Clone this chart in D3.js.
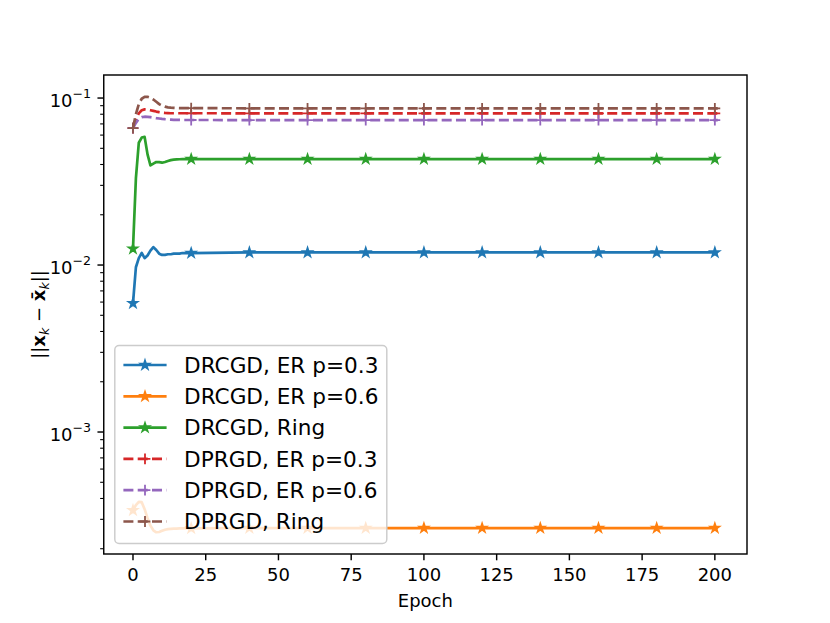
<!DOCTYPE html>
<html><head><meta charset="utf-8">
<script src="https://cdn.jsdelivr.net/npm/d3@7"></script>
<style>body{margin:0;background:#fff} text{font-family:"DejaVu Sans",sans-serif;fill:#000}</style>
</head><body><svg id="c" width="830" height="623"></svg>
<script>
// ---- data ----
const epochs = [0,1,2,3,4,5,6,7,8,9,10,11,12,13,14,15,16,17,18,19,20,40,60,80,100,120,140,160,180,200,201];
const seriesNames = ["DRCGD, ER p=0.3","DRCGD, ER p=0.6","DRCGD, Ring","DPRGD, ER p=0.3","DPRGD, ER p=0.6","DPRGD, Ring"];
const drcgdER03 = [0.0059,0.0097,0.0110,0.0118,0.0110,0.0114,0.0122,0.0128,0.0123,0.0117,0.0115,0.0115,0.0116,0.0116,0.0117,0.0117,0.0117,0.0118,0.0118,0.0118,0.0118,0.0119,0.0119,0.0119,0.0119,0.0119,0.0119,0.0119,0.0119,0.0119,0.0119];
const drcgdER06 = [3.4e-4,3.65e-4,3.82e-4,3.8e-4,3.45e-4,3.05e-4,2.75e-4,2.58e-4,2.51e-4,2.52e-4,2.56e-4,2.6e-4,2.62e-4,2.63e-4,2.64e-4,2.64e-4,2.65e-4,2.65e-4,2.65e-4,2.65e-4,2.65e-4,2.66e-4,2.66e-4,2.66e-4,2.66e-4,2.66e-4,2.66e-4,2.66e-4,2.66e-4,2.66e-4,2.66e-4];
const drcgdRing = [0.0125,0.033,0.054,0.058,0.0585,0.046,0.0395,0.0405,0.0414,0.0413,0.0410,0.0414,0.0420,0.0425,0.0428,0.0429,0.0430,0.0431,0.0431,0.0431,0.0431,0.0431,0.0431,0.0431,0.0431,0.0431,0.0431,0.0431,0.0431,0.0431,0.0431];
const dprgdER03 = [0.066,0.075,0.081,0.0845,0.0855,0.0852,0.0845,0.0838,0.0830,0.0823,0.0818,0.0815,0.0813,0.0811,0.0811,0.0811,0.0811,0.0811,0.0811,0.0811,0.0811,0.0810,0.0810,0.0810,0.0810,0.0810,0.0810,0.0810,0.0810,0.0810,0.0810];
const dprgdER06 = [0.066,0.071,0.0752,0.0768,0.0773,0.0772,0.0768,0.0763,0.0758,0.0754,0.0750,0.0747,0.0745,0.0743,0.0741,0.0740,0.0740,0.0739,0.0739,0.0739,0.0739,0.0738,0.0738,0.0738,0.0738,0.0738,0.0738,0.0738,0.0738,0.0738,0.0738];
const dprgdRing = [0.066,0.080,0.092,0.099,0.1015,0.1018,0.1005,0.098,0.095,0.092,0.090,0.0888,0.0880,0.0876,0.0873,0.0871,0.0870,0.0870,0.0870,0.0870,0.0870,0.0868,0.0868,0.0868,0.0868,0.0868,0.0868,0.0868,0.0868,0.0868,0.0868];
const markerEpochs = [0,20,40,60,80,100,120,140,160,180,200];
const xTicks = [0,25,50,75,100,125,150,175,200];
const yTicks = [1e-3,1e-2,1e-1];
const yTickExp = ["\u22123","\u22122","\u22121"];
const colors = ["#1f77b4","#ff7f0e","#2ca02c","#d62728","#9467bd","#8c564b"];
const markers = ["star","star","star","plus","plus","plus"];
const dashed = [false,false,false,true,true,true];
const allValues = [drcgdER03,drcgdER06,drcgdRing,dprgdER03,dprgdER06,dprgdRing];

// ---- layout ----
const L=103.75, R=747, T=75, B=554;
const svg = d3.select("#c");
const x = d3.scaleLinear().domain([-10.05,211.05]).range([L,R]);
const y = d3.scaleLog().domain([1.86e-4,0.1374]).range([B,T]);

const lw = 2.7, dash = "10,4.3";
const starPath = d3.symbol(d3.symbolStar, 4.8*4.8/0.8908130915292852)();
const plusPath = "M-5.4,0H5.4M0,-5.4V5.4";

function drawMarker(g, cx, cy, type, color){
  if(type==="star"){
    g.append("path").attr("d",starPath).attr("transform",`translate(${cx},${cy})`)
      .attr("fill",color).attr("stroke",color).attr("stroke-width",1.6).attr("stroke-linejoin","miter");
  } else {
    g.append("path").attr("d",plusPath).attr("transform",`translate(${cx},${cy})`)
      .attr("fill","none").attr("stroke",color).attr("stroke-width",1.8);
  }
}

const plot = svg.append("g");
const line = d3.line().x(d=>x(d[0])).y(d=>y(d[1]));
allValues.forEach((vals,i)=>{
  const pts = epochs.map((e,j)=>[e,vals[j]]);
  plot.append("path").attr("d",line(pts)).attr("fill","none").attr("stroke",colors[i])
    .attr("stroke-width",lw).attr("stroke-linejoin","round")
    .attr("stroke-dasharray",dashed[i]?dash:null);
  const mg = plot.append("g");
  markerEpochs.forEach(me=>{
    const j = epochs.indexOf(me);
    drawMarker(mg, x(me), y(vals[j]), markers[i], colors[i]);
  });
});

// ---- axes ----
const ax = svg.append("g");
xTicks.forEach(t=>{
  ax.append("line").attr("x1",x(t)).attr("x2",x(t)).attr("y1",B).attr("y2",B+6.3).attr("stroke","#000").attr("stroke-width",1.44);
  ax.append("text").attr("x",x(t)).attr("y",B+12.6+14).attr("text-anchor","middle").attr("font-size",18).text(t);
});
yTicks.forEach((t,i)=>{
  ax.append("line").attr("x1",L-6.3).attr("x2",L).attr("y1",y(t)).attr("y2",y(t)).attr("stroke","#000").attr("stroke-width",1.44);
  const tx = ax.append("text").attr("x",L-12.6).attr("y",y(t)+8.5).attr("text-anchor","end").attr("font-size",18);
  tx.append("tspan").text("10");
  tx.append("tspan").attr("dy",-8.5).attr("font-size",12.6).text(yTickExp[i]);
});
for(let d=-4; d<=-1; d++){
  for(let k=2;k<=9;k++){
    const v = k*Math.pow(10,d);
    if(v>y.domain()[0] && v<y.domain()[1]){
      ax.append("line").attr("x1",L-3.6).attr("x2",L).attr("y1",y(v)).attr("y2",y(v)).attr("stroke","#000").attr("stroke-width",1.08);
    }
  }
}
ax.append("rect").attr("x",L).attr("y",T).attr("width",R-L).attr("height",B-T)
  .attr("fill","none").attr("stroke","#000").attr("stroke-width",1.44);

svg.append("text").attr("x",(L+R)/2).attr("y",607).attr("text-anchor","middle").attr("font-size",18).text("Epoch");
const yl = svg.append("text").attr("transform",`translate(45,${(T+B)/2}) rotate(-90)`).attr("text-anchor","middle").attr("font-size",18);
yl.append("tspan").text("||");
yl.append("tspan").attr("font-weight","bold").text("x");
yl.append("tspan").attr("font-size",12.6).attr("font-style","italic").attr("dy",4).text("k");
yl.append("tspan").attr("dy",-4).text(" \u2212 ");
yl.append("tspan").attr("font-weight","bold").text("x\u0304");
yl.append("tspan").attr("font-size",12.6).attr("font-style","italic").attr("dy",4).text("k");
yl.append("tspan").attr("dy",-4).text("||");

// ---- legend ----
const lg = svg.append("g");
const lx = 114.8, ly = 345.5, lwid = 272, lht = 198;
lg.append("rect").attr("x",lx).attr("y",ly).attr("width",lwid).attr("height",lht).attr("rx",4.3)
  .attr("fill","rgba(255,255,255,0.8)").attr("stroke","#cccccc").attr("stroke-width",1.44);
seriesNames.forEach((name,i)=>{
  const cy = 365 + i*31.3;
  const hx1 = 123.4, hx2 = 166.6;
  lg.append("line").attr("x1",hx1).attr("x2",hx2).attr("y1",cy).attr("y2",cy)
    .attr("stroke",colors[i]).attr("stroke-width",lw).attr("stroke-dasharray",dashed[i]?dash:null);
  drawMarker(lg,(hx1+hx2)/2,cy,markers[i],colors[i]);
  lg.append("text").attr("x",184).attr("y",cy+7.8).attr("font-size",21.6).text(name);
});
</script></body></html>
